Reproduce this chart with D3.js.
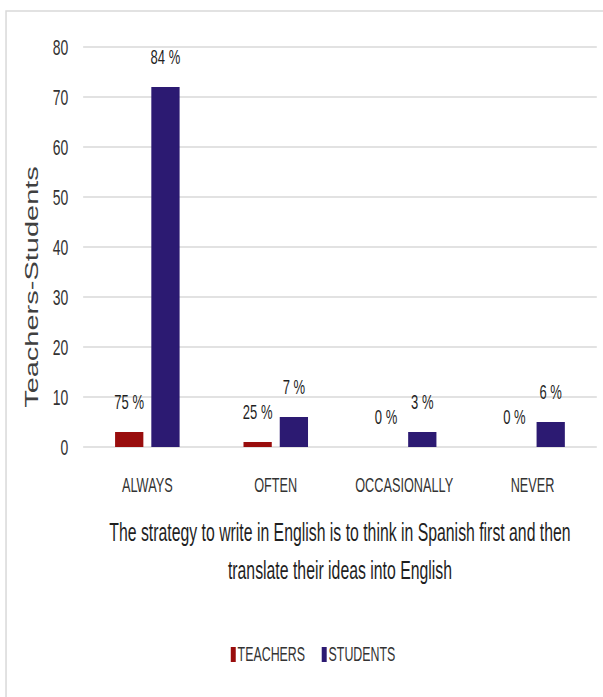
<!DOCTYPE html>
<html>
<head>
<meta charset="utf-8">
<script src="https://cdn.jsdelivr.net/npm/d3@7"></script>
<style>
  html, body { margin: 0; padding: 0; background: #fff; }
  svg { display: block; font-family: "Liberation Sans", Arial, sans-serif; }
</style>
</head>
<body>
<div id="chart"></div>
<script>
const categories = ['ALWAYS', 'OFTEN', 'OCCASIONALLY', 'NEVER'];
const series = ['TEACHERS', 'STUDENTS'];
const teachers = [3, 1, 0, 0];
const students = [72, 6, 3, 5];
const teacherLabels = ['75 %', '25 %', '0 %', '0 %'];
const studentLabels = ['84 %', '7 %', '3 %', '6 %'];
const yTicks = [0, 10, 20, 30, 40, 50, 60, 70, 80];
const titleLines = ['The strategy to write in English is to think in Spanish first and then', 'translate their ideas into English'];
const yTitle = 'Teachers-Students';
const colors = {TEACHERS: '#990d0d', STUDENTS: '#2c1a72'};

// the picture is squeezed sideways, so draw wide and let the viewBox squash it
const W = 603, H = 697, VW = 972;

const svg = d3.select('#chart')
    .append('svg')
    .attr('width', W)
    .attr('height', H)
    .attr('viewBox', `0 0 ${VW} ${H}`)
    .attr('preserveAspectRatio', 'none');

// outer frame
svg.append('rect')
    .attr('x', 9.7).attr('y', 11)
    .attr('width', VW + 50).attr('height', H + 50)
    .attr('fill', 'none')
    .attr('stroke', '#d9d9d9')
    .attr('stroke-width', 1.5)
    .attr('vector-effect', 'non-scaling-stroke');

const plot = {left: 134, right: 962, top: 47, bottom: 447};

const x0 = d3.scaleBand()
    .domain(categories)
    .range([plot.left, plot.right]);

const bw = x0.bandwidth();
const x1 = d3.scaleBand()
    .domain(series)
    .range([bw / 2 - 52, bw / 2 + 52])
    .paddingInner(0.22);

const y = d3.scaleLinear()
    .domain([0, 80])
    .range([plot.bottom, plot.top]);

// gridlines
svg.append('g')
    .selectAll('line')
    .data(yTicks)
    .enter()
    .append('line')
    .attr('x1', plot.left)
    .attr('x2', plot.right)
    .attr('y1', d => y(d))
    .attr('y2', d => y(d))
    .attr('stroke', '#d9d9d9')
    .attr('stroke-width', 1.5)
    .attr('vector-effect', 'non-scaling-stroke');

// y axis labels
const yAxis = svg.append('g')
    .attr('transform', `translate(${plot.left},0)`)
    .call(d3.axisLeft(y).tickValues(yTicks).tickSize(0).tickPadding(24));
yAxis.select('.domain').remove();
yAxis.selectAll('text')
    .attr('font-size', 22.5)
    .attr('font-family', '"Liberation Sans", Arial, sans-serif')
    .attr('fill', '#333');

// bars
const rows = categories.map((c, i) => ({
    category: c,
    values: [
        {key: 'TEACHERS', value: teachers[i], label: teacherLabels[i]},
        {key: 'STUDENTS', value: students[i], label: studentLabels[i]}
    ]
}));

const groups = svg.selectAll('.cat')
    .data(rows)
    .enter()
    .append('g')
    .attr('class', 'cat')
    .attr('transform', d => `translate(${x0(d.category)},0)`);

groups.selectAll('rect')
    .data(d => d.values.filter(v => v.value > 0))
    .enter()
    .append('rect')
    .attr('x', d => x1(d.key))
    .attr('width', x1.bandwidth())
    .attr('y', d => y(d.value))
    .attr('height', d => y(0) - y(d.value))
    .attr('fill', d => colors[d.key]);

// value labels
groups.selectAll('.label')
    .data(d => d.values)
    .enter()
    .append('text')
    .attr('class', 'label')
    .attr('x', d => x1(d.key) + x1.bandwidth() / 2)
    .attr('y', d => y(d.value) - 23)
    .attr('text-anchor', 'middle')
    .attr('font-size', 21)
    .attr('fill', '#1f1f1f')
    .text(d => d.label);

// category labels
svg.append('g')
    .selectAll('text')
    .data(categories)
    .enter()
    .append('text')
    .attr('x', d => x0(d) + bw / 2)
    .attr('y', 492)
    .attr('text-anchor', 'middle')
    .attr('font-size', 20.5)
    .attr('fill', '#333')
    .text(d => d);

// y axis title
svg.append('text')
    .attr('transform', 'translate(61,287) rotate(-90)')
    .attr('text-anchor', 'middle')
    .attr('font-size', 29)
    .attr('fill', '#404040')
    .text(yTitle);

// x axis title
svg.append('g')
    .selectAll('text')
    .data(titleLines)
    .enter()
    .append('text')
    .attr('x', (plot.left + plot.right) / 2)
    .attr('y', (d, i) => 541 + i * 38)
    .attr('text-anchor', 'middle')
    .attr('font-size', 25.5)
    .attr('fill', '#1f1f1f')
    .text(d => d);

// legend
const legendX = [372, 518.6];
const legend = svg.selectAll('.legend')
    .data(series)
    .enter()
    .append('g')
    .attr('class', 'legend')
    .attr('transform', (d, i) => `translate(${legendX[i]},0)`);

legend.append('rect')
    .attr('x', 0)
    .attr('y', 647)
    .attr('width', 8)
    .attr('height', 15)
    .attr('fill', d => colors[d]);

legend.append('text')
    .attr('x', 11)
    .attr('y', 661)
    .attr('font-size', 20)
    .attr('fill', '#333')
    .text(d => d);
</script>
</body>
</html>
